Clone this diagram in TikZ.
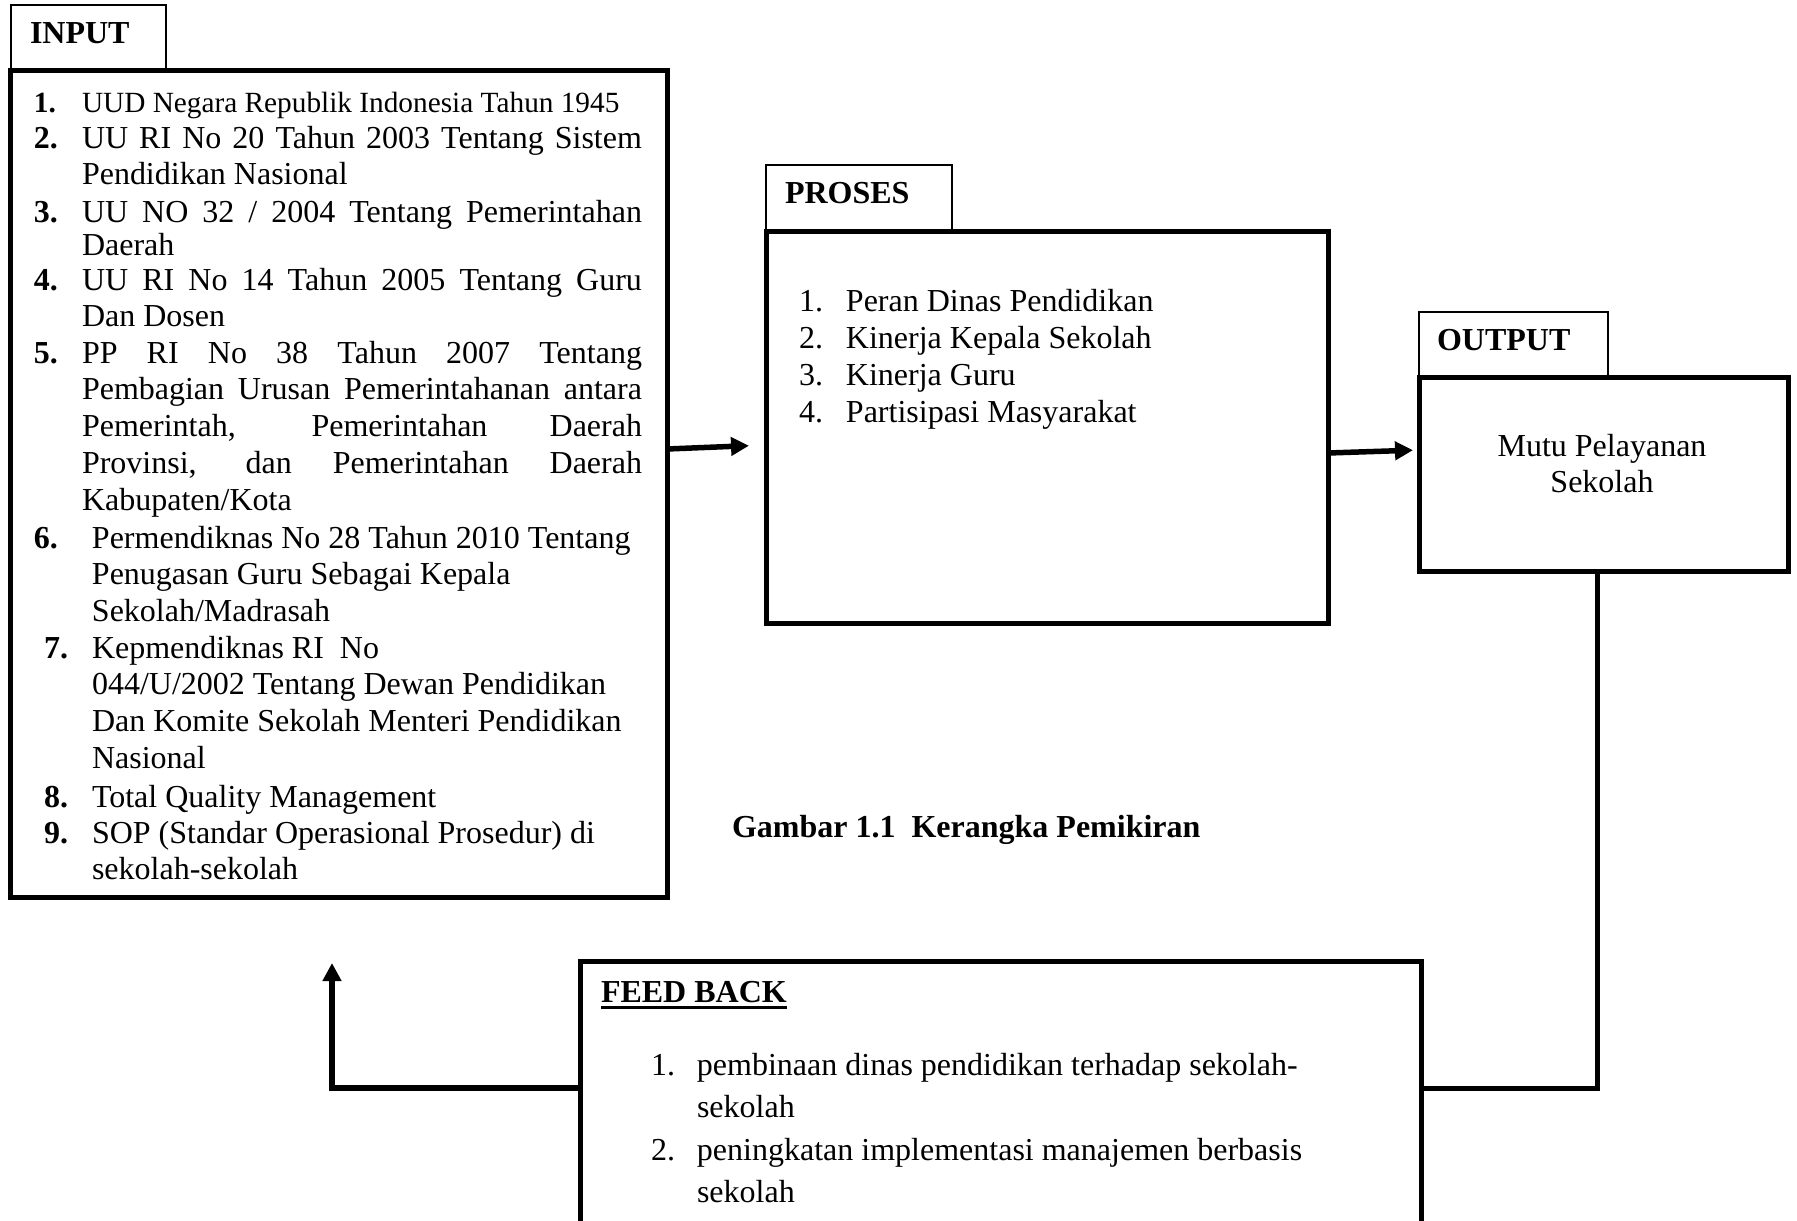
\documentclass[tikz,border=0pt]{standalone}
\usepackage{fontspec}
\setmainfont{Liberation Serif}
\usetikzlibrary{arrows.meta,calc}
\newcommand{\fs}{\fontsize{32pt}{36.8pt}\selectfont}
\newcommand{\fss}{\fontsize{29.3pt}{36.8pt}\selectfont}
\newcommand{\nm}[2]{\makebox[#1][l]{\bfseries #2}}
\newcommand{\rn}[2]{\makebox[#1][l]{#2}}
\newcommand{\js}[1]{\makebox[560pt][s]{#1}}
\newcommand{\lin}[1]{\hbox{#1}}
\newcommand{\ind}[2]{\hbox{\kern#1\relax #2}}
\begin{document}
\begin{tikzpicture}[x=1pt,y=-1pt,
  bigbox/.style={draw, line width=5pt, inner sep=0pt, outer sep=0pt, anchor=north west},
  tabbox/.style={draw, line width=1.8pt, inner sep=0pt, outer sep=0pt, anchor=north west},
  txt/.style={inner sep=0pt, outer sep=0pt, anchor=base west, font=\fs},
  hdr/.style={txt, font=\fs\bfseries},
  conn/.style={line width=5pt},
  arr/.style={line width=5.5pt, -{Triangle[length=18pt,width=18pt]}}]
\useasboundingbox (0,0) rectangle (1797,1221);

% tabs
\node[tabbox, minimum width=155pt, minimum height=65pt] (intab) at (11,5) {};
\node[tabbox, minimum width=186pt, minimum height=66pt] (prtab) at (766,165) {};
\node[tabbox, minimum width=189pt, minimum height=65pt] (outtab) at (1419,312) {};
% boxes
\node[bigbox, minimum width=657pt, minimum height=827pt] (input) at (10,70) {};
\node[bigbox, minimum width=562pt, minimum height=392pt] (proses) at (766,231) {};
\node[bigbox, minimum width=369pt, minimum height=194pt] (output) at (1419,377) {};
\node[bigbox, minimum width=841pt, minimum height=263pt] (feedback) at (580,961) {};

% headers
\node[hdr] (inhdr) at (30,43) {INPUT};
\node[hdr] (prhdr) at (785,203) {PROSES};
\node[hdr] (outhdr) at (1437,350) {OUTPUT};
\node[hdr] (fbhdr) at (601,1002) {FEED BACK};
\draw[line width=3pt] ([yshift=-5pt]fbhdr.base west) -- ([yshift=-5pt]fbhdr.base east);

% input list
\node[txt] (i1) at (34,112) {\fss\nm{48pt}{1.}UUD Negara Republik Indonesia Tahun 1945};
\node[txt] (i2) at (34,148) {\vtop{\lin{\nm{48pt}{2.}\js{UU RI No 20 Tahun 2003 Tentang Sistem}}\ind{48pt}{Pendidikan Nasional}}};
\node[txt] (i3) at (34,222) {\vtop{\baselineskip=33pt \lin{\nm{48pt}{3.}\js{UU NO 32 / 2004 Tentang Pemerintahan}}\ind{48pt}{Daerah}}};
\node[txt] (i4) at (34,290) {\vtop{\lin{\nm{48pt}{4.}\js{UU RI No 14 Tahun 2005 Tentang Guru}}\ind{48pt}{Dan Dosen}}};
\node[txt] (i5) at (34,363) {\vtop{\lin{\nm{48pt}{5.}\js{PP RI No 38 Tahun 2007 Tentang}}%
\ind{48pt}{\js{Pembagian Urusan Pemerintahanan antara}}%
\ind{48pt}{\js{Pemerintah, Pemerintahan Daerah}}%
\ind{48pt}{\js{Provinsi, dan Pemerintahan Daerah}}%
\ind{48pt}{Kabupaten/Kota}}};
\node[txt] (i6) at (34,548) {\vtop{\lin{\nm{58pt}{6.}Permendiknas No 28 Tahun 2010 Tentang}%
\ind{58pt}{Penugasan Guru Sebagai Kepala}%
\ind{58pt}{Sekolah/Madrasah}}};
\node[txt] (i7) at (44,658) {\vtop{\lin{\nm{48pt}{7.}Kepmendiknas RI\ \ No}%
\ind{48pt}{044/U/2002 Tentang Dewan Pendidikan}%
\ind{48pt}{Dan Komite Sekolah Menteri Pendidikan}%
\ind{48pt}{Nasional}}};
\node[txt] (i8) at (44,807) {\nm{48pt}{8.}Total Quality Management};
\node[txt] (i9) at (44,843) {\vtop{\lin{\nm{48pt}{9.}SOP (Standar Operasional Prosedur) di}%
\ind{48pt}{sekolah-sekolah}}};

% proses list
\node[txt] (p1) at (799,311) {\rn{47pt}{1.}Peran Dinas Pendidikan};
\node[txt] (p2) at (799,348) {\rn{47pt}{2.}Kinerja Kepala Sekolah};
\node[txt] (p3) at (799,385) {\rn{47pt}{3.}Kinerja Guru};
\node[txt] (p4) at (799,422) {\rn{47pt}{4.}Partisipasi Masyarakat};

% output text
\node[txt, anchor=base] (outtxt) at (1602,456) {\vtop{\hbox to 0pt{\hss Mutu Pelayanan\hss}\hbox to 0pt{\hss Sekolah\hss}}};

% feedback list
\node[txt] (f1) at (651,1075) {\vtop{\baselineskip=42.3pt \lin{\rn{46pt}{1.}pembinaan dinas pendidikan terhadap sekolah-}\ind{46pt}{sekolah}}};
\node[txt] (f2) at (651,1160) {\vtop{\baselineskip=42.3pt \lin{\rn{46pt}{2.}peningkatan implementasi manajemen berbasis}\ind{46pt}{sekolah}}};

% caption
\node[hdr] (cap) at (732,837) {Gambar 1.1\ \ Kerangka Pemikiran};

% connectors
\draw[arr, shorten >=17pt] (input.east |- 0,449) -- (proses.west |- 0,445);
\draw[arr, shorten >=6pt] (proses.east |- 0,453) -- (output.west |- 0,450);
\draw[conn] (output.south -| 1597,0) |- (feedback.east |- 0,1088);
\draw[arr, shorten >=66pt] (feedback.west |- 0,1088) -| (input.south -| 332,0);
\end{tikzpicture}
\end{document}
